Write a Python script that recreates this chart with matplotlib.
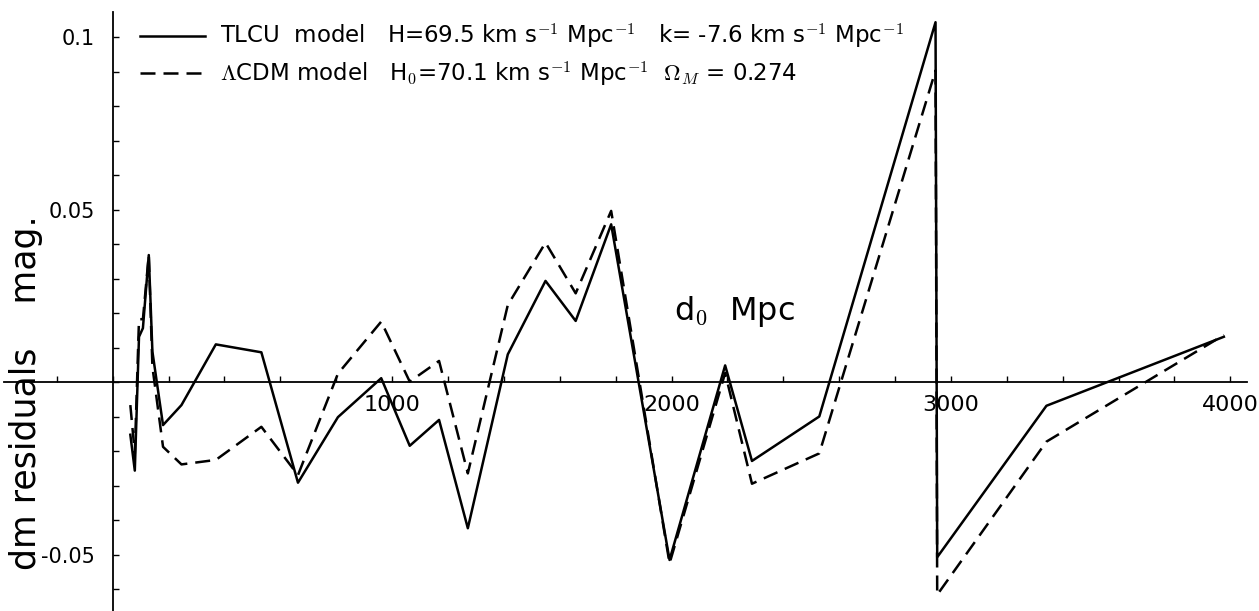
import matplotlib
matplotlib.use('Agg')
import matplotlib.pyplot as plt
from matplotlib.ticker import MultipleLocator

# distances d0 (Mpc) of the binned points
d0 = [63, 79, 94, 108, 129, 142, 180, 246, 369, 532, 663, 806, 961, 1063, 1168,
      1271, 1414, 1549, 1657, 1784, 1993, 2192, 2288, 2529, 2945, 2951, 3342, 3977]

# dm residuals (mag.)
dm_tlcu = [-0.0152, -0.0256, 0.0132, 0.0157, 0.0369, 0.0089, -0.0124, -0.0066,
           0.0110, 0.0087, -0.0291, -0.0101, 0.0012, -0.0184, -0.0109, -0.0423,
           0.0081, 0.0294, 0.0178, 0.0458, -0.0515, 0.0049, -0.0228, -0.0099,
           0.1044, -0.0507, -0.0068, 0.0132]
dm_lcdm = [-0.0066, -0.0206, 0.0183, 0.0183, 0.0369, 0.0045, -0.0187, -0.0238,
           -0.0225, -0.0129, -0.0269, 0.0025, 0.0176, 0.0002, 0.0062, -0.0264,
           0.0224, 0.0405, 0.0258, 0.0497, -0.0525, 0.0027, -0.0294, -0.0206,
           0.0904, -0.0616, -0.0172, 0.0137]

label_tlcu = r"TLCU  model   H=69.5 km s$^{-1}$ Mpc$^{-1}$   k= -7.6 km s$^{-1}$ Mpc$^{-1}$"
label_lcdm = r"$\Lambda$CDM model   H$_0$=70.1 km s$^{-1}$ Mpc$^{-1}$  $\Omega_M$ = 0.274"

xticks = [1000, 2000, 3000, 4000]
xticklabels = ['1000', '2000', '3000', '4000']
yticks = [-0.05, 0.05, 0.1]
yticklabels = ['-0.05', '0.05', '0.1']

plt.rcParams['mathtext.fontset'] = 'cm'
plt.rcParams['axes.unicode_minus'] = False

fig = plt.figure(figsize=(12.59, 6.11), dpi=100)
ax = fig.add_axes([0.003, 0.0, 0.9875, 0.98])

ax.plot(d0, dm_tlcu, color='black', lw=1.8, label=label_tlcu)
ax.plot(d0, dm_lcdm, color='black', lw=1.8, linestyle=(0, (6, 3.2)), label=label_lcdm)

ax.set_xlim(-390, 4060)
ax.set_ylim(-0.0663, 0.1073)

# axes crossing at the origin
for side in ['top', 'right']:
    ax.spines[side].set_visible(False)
ax.spines['left'].set_position(('data', 0))
ax.spines['bottom'].set_position(('data', 0))
ax.spines['left'].set_linewidth(1.3)
ax.spines['bottom'].set_linewidth(1.3)

ax.set_xticks(xticks, labels=xticklabels)
ax.set_yticks(yticks, labels=yticklabels)
ax.xaxis.set_minor_locator(MultipleLocator(200))
ax.yaxis.set_minor_locator(MultipleLocator(0.01))
ax.tick_params(which='both', direction='in', length=4, width=1)
ax.tick_params(axis='x', which='major', pad=9, labelsize=16)
ax.tick_params(axis='y', which='major', pad=13, labelsize=15)

ax.text(2225, 0.0205, r"d$_0$  Mpc", fontsize=23, ha='center', va='center')
fig.text(0.0205, 0.358, "dm residuals    mag.", fontsize=25, rotation=90,
         ha='center', va='center')

ax.legend(loc='upper left', bbox_to_anchor=(0.111, 0.964), bbox_transform=fig.transFigure,
          frameon=False, fontsize=16.5, handlelength=2.85, handletextpad=0.65,
          borderpad=0, borderaxespad=0, labelspacing=0.35)

fig.savefig('out.png', dpi=100)
